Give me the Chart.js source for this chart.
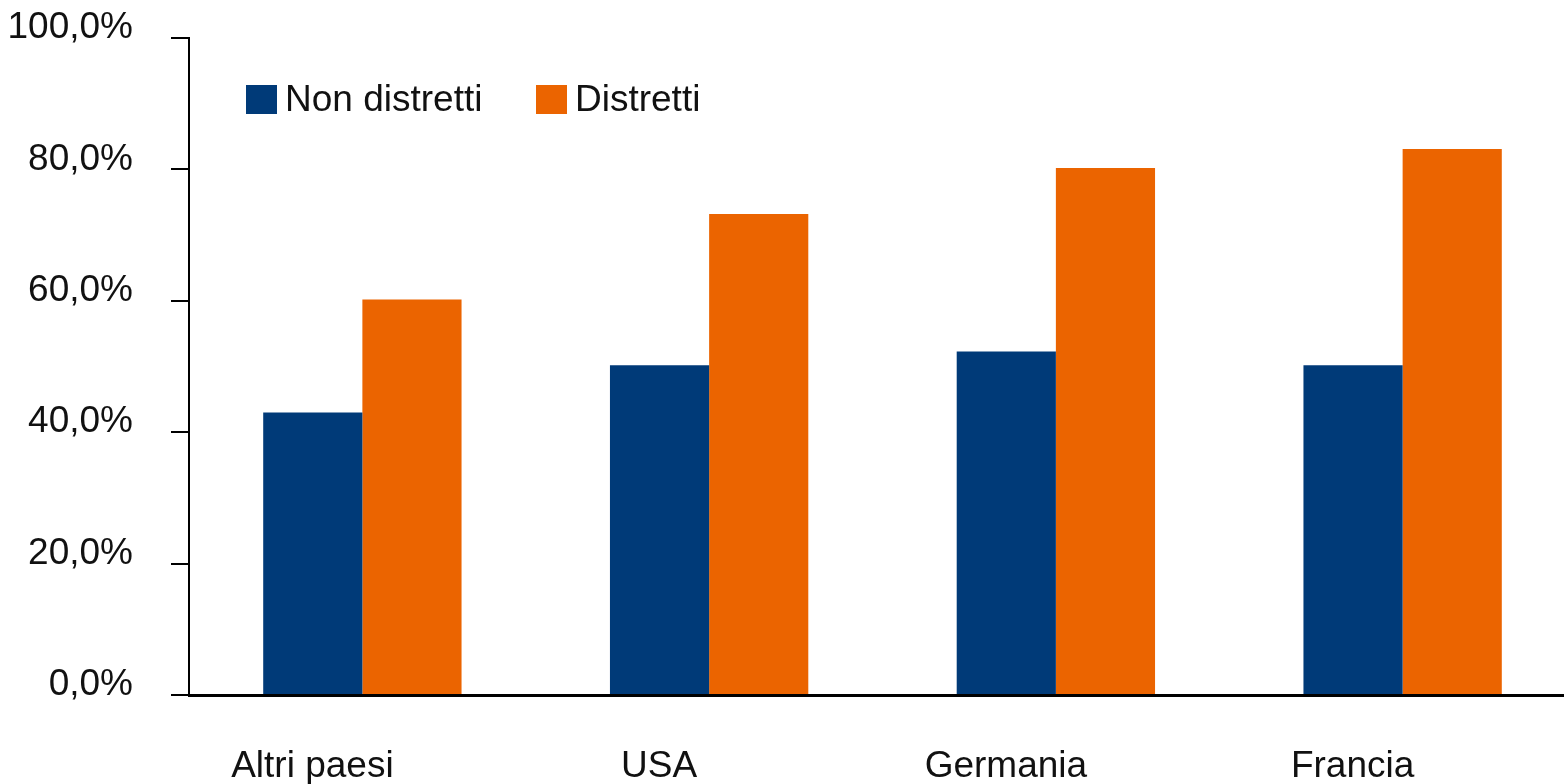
<!DOCTYPE html>
<html lang="it">
<head>
<meta charset="UTF-8">
<title>Distretti vs non distretti</title>
<script src="https://cdn.jsdelivr.net/npm/chart.js"></script>
<style>
  html, body { margin: 0; padding: 0; background: #fff; overflow: hidden; }
  #wrap { width: 1576px; height: 784px; }
</style>
</head>
<body>
<div id="wrap"><canvas id="chart"></canvas></div>
<script>
// --- dati ---
const categories = ['Altri paesi', 'USA', 'Germania', 'Francia'];
const nonDistretti = [43.0, 50.2, 52.3, 50.2];
const distretti = [60.2, 73.2, 80.2, 83.1];
const yTicks = [0, 20, 40, 60, 80, 100];

const BLUE = '#003A78';
const ORANGE = '#EB6400';
const FONT = 'Liberation Sans, Arial, sans-serif';

// legenda disegnata dentro l'area del grafico, in alto a sinistra
const insideLegend = {
  id: 'insideLegend',
  afterDraw(chart) {
    const { ctx, chartArea } = chart;
    const y = chartArea.top + 47;
    const items = [
      { x: chartArea.left + 57, ds: chart.data.datasets[0] },
      { x: chartArea.left + 347, ds: chart.data.datasets[1] }
    ];
    ctx.save();
    ctx.font = '37px ' + FONT;
    ctx.textBaseline = 'middle';
    items.forEach(it => {
      ctx.fillStyle = it.ds.backgroundColor;
      ctx.fillRect(it.x, y, 31, 29);
      ctx.fillStyle = '#111';
      ctx.fillText(it.ds.label, it.x + 39, y + 16);
    });
    ctx.restore();
  }
};

new Chart(document.getElementById('chart'), {
  type: 'bar',
  data: {
    labels: categories,
    datasets: [
      { label: 'Non distretti', data: nonDistretti, backgroundColor: BLUE },
      { label: 'Distretti', data: distretti, backgroundColor: ORANGE }
    ]
  },
  options: {
    responsive: true,
    maintainAspectRatio: false,
    animation: false,
    layout: { padding: { top: 38, left: 0, right: 0, bottom: 0 } },
    plugins: {
      legend: { display: false },
      tooltip: { enabled: false }
    },
    datasets: {
      bar: { barPercentage: 1.0, categoryPercentage: 0.572, borderWidth: 0 }
    },
    scales: {
      x: {
        afterFit: (scale) => { scale.height = 89; },
        grid: { display: false, drawTicks: false },
        border: { display: true, color: '#000', width: 3 },
        ticks: {
          color: '#111',
          font: { family: FONT, size: 37, lineHeight: 1.0 },
          padding: 53,
          labelOffset: -50,
          maxRotation: 0
        }
      },
      y: {
        min: 0,
        max: 100,
        afterBuildTicks: (scale) => { scale.ticks = yTicks.map(v => ({ value: v })); },
        afterFit: (scale) => {
          scale.width = 189;
          scale.paddingTop = 0;
          scale.paddingBottom = 0;
        },
        grid: { drawOnChartArea: false, drawTicks: true, tickLength: 18, color: '#000', lineWidth: 2 },
        border: { display: true, color: '#000', width: 2 },
        ticks: {
          color: '#111',
          font: { family: FONT, size: 37 },
          padding: 38,
          labelOffset: -10,
          callback: (v) => v.toFixed(1).replace('.', ',') + '%'
        }
      }
    }
  },
  plugins: [insideLegend]
});
</script>
</body>
</html>
